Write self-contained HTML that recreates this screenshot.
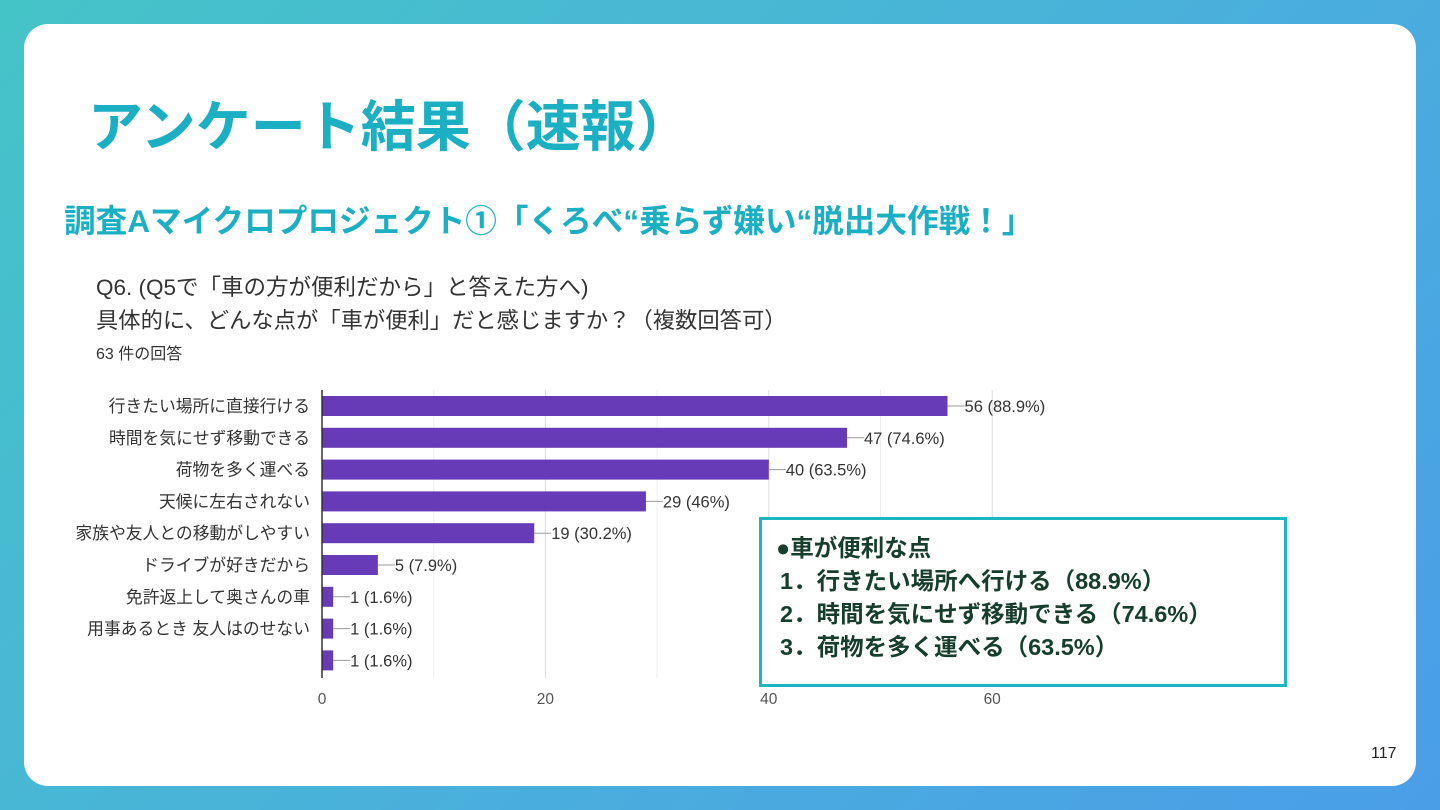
<!DOCTYPE html>
<html><head><meta charset="utf-8"><style>
html,body{margin:0;padding:0;}
body{width:1440px;height:810px;position:relative;overflow:hidden;background:linear-gradient(135deg,#45c4c8 0%,#4aaedd 60%,#4a9ee8 100%);font-family:"Liberation Sans","Noto Sans CJK JP",sans-serif;}
.card{position:absolute;left:24px;top:24px;width:1392px;height:762px;background:#fff;border-radius:24px;}
.t{position:absolute;white-space:nowrap;}
</style></head><body>
<div class="card"></div>
<div class="t" style="left:88px;top:82px;font-size:55px;font-weight:bold;color:#1aafc2;">アンケート結果（速報）</div>
<div class="t" style="left:64px;top:196px;font-size:31.6px;font-weight:bold;color:#1aafc2;">調査Aマイクロプロジェクト①「くろべ“乗らず嫌い“脱出大作戦！」</div>
<div class="t" style="left:96px;top:270px;font-size:22.5px;color:#333;">Q6. (Q5で「車の方が便利だから」と答えた方へ)</div>
<div class="t" style="left:96px;top:303px;font-size:22.3px;color:#333;">具体的に、どんな点が「車が便利」だと感じますか？（複数回答可）</div>
<div class="t" style="left:96px;top:340px;font-size:16px;color:#333;">63 件の回答</div>
<svg id="chart" width="1440" height="810" style="position:absolute;left:0;top:0;"></svg>
<div style="position:absolute;left:759px;top:517px;width:528px;height:170px;border:3px solid #1cb5c4;background:rgba(255,255,255,0.93);font-family:'Liberation Sans','Noto Sans CJK JP',sans-serif;font-weight:bold;color:#173d2c;font-size:23.5px;line-height:33px;padding-top:12px;box-sizing:border-box;">
<div style="padding-left:14px;">●車が便利な点</div>
<div style="padding-left:18px;">1．行きたい場所へ行ける（88.9%）</div>
<div style="padding-left:18px;">2．時間を気にせず移動できる（74.6%）</div>
<div style="padding-left:18px;">3．荷物を多く運べる（63.5%）</div>
</div>
<div class="t" style="left:1371px;top:745px;font-size:16px;color:#222;">117</div>
<script>
const categories=["行きたい場所に直接行ける","時間を気にせず移動できる","荷物を多く運べる","天候に左右されない","家族や友人との移動がしやすい","ドライブが好きだから","免許返上して奥さんの車","用事あるとき 友人はのせない",""];
const counts=[56,47,40,29,19,5,1,1,1];
const valueLabels=["56 (88.9%)","47 (74.6%)","40 (63.5%)","29 (46%)","19 (30.2%)","5 (7.9%)","1 (1.6%)","1 (1.6%)","1 (1.6%)"];
const ticks=[0,20,40,60];
const svg=document.getElementById('chart');
const NS='http://www.w3.org/2000/svg';
const x0=322,pxPer=11.17,yTop=390,yBot=678,step=31.8,firstC=406,bh=20;
const xs=v=>x0+v*pxPer;
const yc=i=>firstC+i*step;
function mk(t,a){const e=document.createElementNS(NS,t);for(const k in a)e.setAttribute(k,a[k]);svg.appendChild(e);return e;}
for(let v=10;v<=60;v+=10){const g=mk('line',{x1:xs(v),x2:xs(v),y1:yTop,y2:yBot,stroke:v%20==0?'#ddd':'#eee','stroke-width':1});

}
ticks.forEach(v=>{const t=mk('text',{x:xs(v),y:704,'text-anchor':'middle','font-size':15.5,fill:'#555','font-family':'Liberation Sans'});t.textContent=v;

});
counts.forEach((c,i)=>{
const r=mk('rect',{x:x0,y:yc(i)-bh/2,width:c*pxPer,height:bh,fill:'#673ab7'});


const l=mk('line',{x1:xs(c),x2:xs(c)+17,y1:yc(i),y2:yc(i),stroke:'#999','stroke-width':1});


const vt=mk('text',{x:xs(c)+17,y:yc(i)+6,'font-size':16.5,fill:'#333','font-family':'Liberation Sans'});vt.textContent=valueLabels[i];


const ct=mk('text',{x:310,y:yc(i)+6,'text-anchor':'end','font-size':16.8,fill:'#333','font-family':'Liberation Sans, Noto Sans CJK JP, sans-serif'});ct.textContent=categories[i];


});
const ax=mk('line',{x1:x0,x2:x0,y1:yTop,y2:yBot,stroke:'#333','stroke-width':1.5});


</script>
</body></html>
